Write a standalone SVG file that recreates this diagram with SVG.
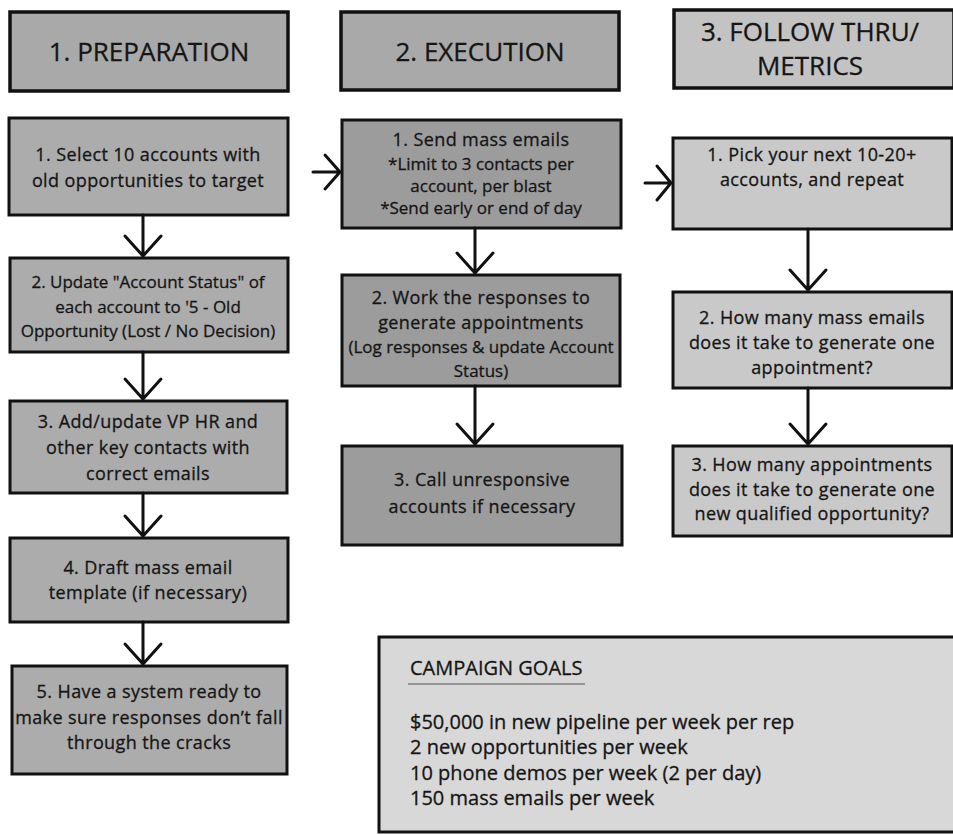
<svg xmlns="http://www.w3.org/2000/svg" width="953" height="835" viewBox="0 0 953 835">
  <style>
    .hdr { stroke: #111; stroke-width: 3.5; }
    .box { stroke: #111; stroke-width: 3; }
    .h1 { fill: #a9a9a9; }
    .h3 { fill: #c3c3c3; }
    .c1 { fill: #acacac; }
    .c2 { fill: #9c9c9c; }
    .c3 { fill: #c9c9c9; }
    .goal { fill: #d8d8d8; }
    text { font-family: "Open Sans", "Liberation Sans", sans-serif; fill: #151515; stroke: #151515; stroke-width: 0.3; text-anchor: middle; }
    .ht { font-size: 26px; }
    .t { font-size: 18px; letter-spacing: 0.4px; }
    .s { font-size: 17px; }
    .g { font-size: 20px; text-anchor: start; }
    .conn path { fill: none; stroke: #111; stroke-width: 3; stroke-linecap: round; stroke-linejoin: round; }
  </style>
  <rect width="953" height="835" fill="#ffffff"/>

  <!-- column headers -->
  <g id="hdr-preparation">
    <rect class="hdr h1" x="10" y="12" width="278" height="79"/>
    <text class="ht" x="149" y="61">1. PREPARATION</text>
  </g>
  <g id="hdr-execution">
    <rect class="hdr h1" x="341" y="12" width="278" height="78"/>
    <text class="ht" x="480" y="61">2. EXECUTION</text>
  </g>
  <g id="hdr-followthru">
    <rect class="hdr h3" x="674" y="10" width="280" height="78"/>
    <text class="ht" x="810" y="41">3. FOLLOW THRU/</text>
    <text class="ht" x="810" y="75">METRICS</text>
  </g>

  <!-- preparation steps -->
  <g id="prep-1">
    <rect class="box c1" x="9" y="118" width="279" height="97"/>
    <text class="t" x="148" y="161">1. Select 10 accounts with</text>
    <text class="t" x="148" y="187">old opportunities to target</text>
  </g>
  <g id="prep-2">
    <rect class="box c1" x="10" y="258" width="278" height="94"/>
    <text class="s" x="148" y="288">2. Update "Account Status" of</text>
    <text class="s" x="148" y="313">each account to '5 - Old</text>
    <text class="s" x="148" y="337">Opportunity (Lost / No Decision)</text>
  </g>
  <g id="prep-3">
    <rect class="box c1" x="10" y="401" width="277" height="92"/>
    <text class="t" x="148" y="428">3. Add/update VP HR and</text>
    <text class="t" x="148" y="454">other key contacts with</text>
    <text class="t" x="148" y="480">correct emails</text>
  </g>
  <g id="prep-4">
    <rect class="box c1" x="10" y="538" width="278" height="84"/>
    <text class="t" x="148" y="574">4. Draft mass email</text>
    <text class="t" x="148" y="599">template (if necessary)</text>
  </g>
  <g id="prep-5">
    <rect class="box c1" x="12" y="666" width="275" height="108"/>
    <text class="t" x="149" y="698">5. Have a system ready to</text>
    <text class="t" x="149" y="724">make sure responses don’t fall</text>
    <text class="t" x="149" y="749">through the cracks</text>
  </g>

  <!-- execution steps -->
  <g id="exec-1">
    <rect class="box c2" x="342" y="120" width="279" height="108"/>
    <text class="t" x="481" y="146">1. Send mass emails</text>
    <text class="s" x="481" y="170">*Limit to 3 contacts per</text>
    <text class="s" x="481" y="192">account, per blast</text>
    <text class="s" x="481" y="214">*Send early or end of day</text>
  </g>
  <g id="exec-2">
    <rect class="box c2" x="342" y="275" width="278" height="111"/>
    <text class="t" x="481" y="304">2. Work the responses to</text>
    <text class="t" x="481" y="329">generate appointments</text>
    <text class="s" x="481" y="353">(Log responses &amp; update Account</text>
    <text class="s" x="481" y="377">Status)</text>
  </g>
  <g id="exec-3">
    <rect class="box c2" x="342" y="446" width="280" height="99"/>
    <text class="t" x="482" y="486">3. Call unresponsive</text>
    <text class="t" x="482" y="513">accounts if necessary</text>
  </g>

  <!-- follow-through steps -->
  <g id="follow-1">
    <rect class="box c3" x="673" y="138" width="279" height="91"/>
    <text class="t" x="812" y="161">1. Pick your next 10-20+</text>
    <text class="t" x="812" y="186">accounts, and repeat</text>
  </g>
  <g id="follow-2">
    <rect class="box c3" x="673" y="292" width="279" height="96"/>
    <text class="t" x="812" y="324">2. How many mass emails</text>
    <text class="t" x="812" y="349">does it take to generate one</text>
    <text class="t" x="812" y="374">appointment?</text>
  </g>
  <g id="follow-3">
    <rect class="box c3" x="673" y="446" width="279" height="90"/>
    <text class="t" x="812" y="471">3. How many appointments</text>
    <text class="t" x="812" y="496">does it take to generate one</text>
    <text class="t" x="812" y="520">new qualified opportunity?</text>
  </g>

  <!-- goals panel -->
  <g id="campaign-goals">
    <rect class="box goal" x="379" y="637" width="580" height="195"/>
    <text class="g" x="410" y="675">CAMPAIGN GOALS</text>
    <line x1="408" y1="684" x2="585" y2="684" stroke="#555" stroke-width="1"/>
    <text class="g" x="410" y="729">$50,000 in new pipeline per week per rep</text>
    <text class="g" x="410" y="754">2 new opportunities per week</text>
    <text class="g" x="410" y="780">10 phone demos per week (2 per day)</text>
    <text class="g" x="410" y="805">150 mass emails per week</text>
  </g>

  <!-- connectors: open chevron arrowheads -->
  <g id="connectors" class="conn">
    <path d="M143 215 V256 M125 236 L143 256 L161 236"/>
    <path d="M143 352 V399 M125 379 L143 399 L161 379"/>
    <path d="M143 493 V536 M125 516 L143 536 L161 516"/>
    <path d="M143 622 V664 M125 644 L143 664 L161 644"/>

    <path d="M475 228 V273 M457 253 L475 273 L493 253"/>
    <path d="M475 386 V444 M457 424 L475 444 L493 424"/>

    <path d="M808 229 V290 M790 270 L808 290 L826 270"/>
    <path d="M808 388 V444 M790 424 L808 444 L826 424"/>

    <path d="M313 172 H340 M325 155 L340 172 L325 189"/>
    <path d="M645 183 H671 M657 166 L671 183 L657 200"/>
  </g>
</svg>
